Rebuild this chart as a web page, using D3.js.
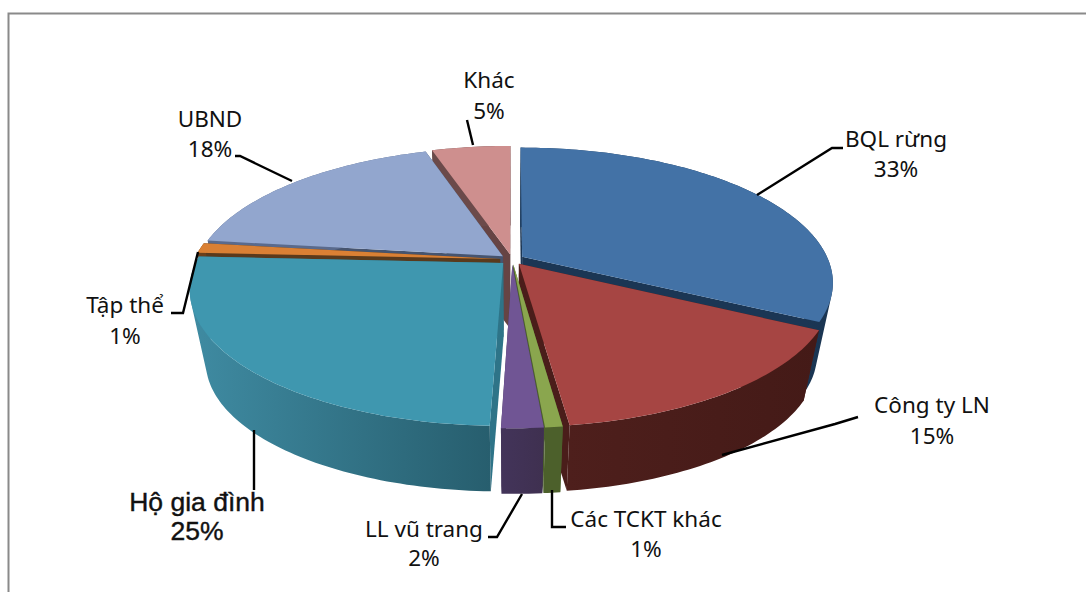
<!DOCTYPE html>
<html><head><meta charset="utf-8">
<style>html,body{margin:0;padding:0;background:#fff}svg{display:block}</style>
<script src="https://cdn.jsdelivr.net/npm/d3@7/dist/d3.min.js"></script>
</head><body><svg id="c" width="1086" height="592"></svg>
<script>
const categories=["BQL rừng","Công ty LN","Các TCKT khác","LL vũ trang","Hộ gia đình","Tập thể","UBND","Khác"];
const values=[32.6,15.33,0.75,1.8,25.3,1.2,18.1,4.92];
const percentLabels=["33%","15%","1%","2%","25%","1%","18%","5%"];
const topColors=["#4372A6","#A64543","#8AA64E","#705594","#3F97AF","#DA8034","#92A6CE","#CE8F8E"];
const wallFrom=["#1F3E60","#4E1F1C","#4C602B","#43345A","#3F8BA2","#6B3F1A","#5A6A8C","#6B4A4A"];
const wallTo=["#1A3552","#441A17","#4C602B","#3F3050","#275E6E","#6B3F1A","#5A6A8C","#6B4A4A"];
const radialColor=["#1B3654","#4A1D1A","#4C602B","#43345A","#2E7488","#5A3A1C","#46546F","#664444"];

// layout constants
const cx=512,cy=259.5,Rx=306,Ry=130.7,persp=0.188,explode=0.039,drop=74,shrink=0.95;
const labelLayout=[
 {x:896,y:[139,169]},{x:932,y:[405,436]},{x:646,y:[519,549]},{x:424,y:[529,558]},
 {x:197,y:[502,531],big:true},{x:125,y:[305,336]},{x:210,y:[119,149]},{x:489,y:[80,111]}];
const leaders=[
 [[757,195],[832,148],[843,148]],
 [[722,455],[835,424],[858,417]],
 [[552,490],[552,527],[566,527]],
 [[522,494],[497,537],[488,537]],
 [[254,430],[254,490]],
 [[198,252],[183,313],[171,313]],
 [[292,181],[240,156],[235,156]],
 [[473,145],[467,120]]];

const svg=d3.select("#c");
const defs=svg.append("defs");
svg.append("rect").attr("width",1086).attr("height",592).attr("fill","#fff");
svg.append("rect").attr("x",8.5).attr("y",13.5).attr("width",1200).attr("height",800)
  .attr("fill","#fff").attr("stroke","#8a8a8a").attr("stroke-width",2);

const pie=d3.pie().sort(null).value(d=>d)(values);
function proj(d,theta,r,bottom){
  const m=(d.startAngle+d.endAngle)/2;
  const u=explode*Math.sin(m)+r*Math.sin(theta);
  const v=-explode*Math.cos(m)-r*Math.cos(theta);
  const p=1/(1-persp*v), s=bottom?shrink:1;
  return [cx+Rx*u*p*s, cy+(bottom?drop:0)+Ry*v*p*s];
}
const line=d3.line();
function quadPath(a,b,c,e){
  let q=[a,b,c,e];
  if(d3.polygonArea(q)<0) q=q.reverse();
  return line(q)+"Z";
}
const slices=pie.map((d,i)=>({d,i,m:(d.startAngle+d.endAngle)/2}))
  .sort((a,b)=>(-Math.cos(a.m))-(-Math.cos(b.m)));

slices.forEach(({d,i})=>{
  const g=svg.append("g");
  const n=Math.max(4,Math.ceil((d.endAngle-d.startAngle)/0.02));
  const thetas=d3.range(n+1).map(k=>d.startAngle+(d.endAngle-d.startAngle)*k/n);
  const topArc=thetas.map(t=>proj(d,t,1,false));
  const botArc=thetas.map(t=>proj(d,t,1,true));
  const a0=proj(d,0,0,false), a1=proj(d,0,0,true);
  [d.startAngle,d.endAngle].forEach(t=>{
    g.append("path").attr("d",quadPath(a0,proj(d,t,1,false),proj(d,t,1,true),a1))
     .attr("fill",radialColor[i]);
  });
  const id="w"+i;
  const xs=topArc.map(p=>p[0]).concat(botArc.map(p=>p[0]));
  const gr=defs.append("linearGradient").attr("id",id).attr("gradientUnits","userSpaceOnUse")
    .attr("x1",d3.min(xs)).attr("x2",d3.max(xs)).attr("y1",0).attr("y2",0);
  gr.append("stop").attr("offset",0).attr("stop-color",wallFrom[i]);
  gr.append("stop").attr("offset",1).attr("stop-color",wallTo[i]);
  let dd="";
  for(let k=0;k<n;k++) dd+=quadPath(topArc[k],topArc[k+1],botArc[k+1],botArc[k]);
  g.append("path").attr("d",dd).attr("fill",`url(#${id})`);
  g.append("path").attr("d",line([a0,...topArc])+"Z").attr("fill",topColors[i]);
});

leaders.forEach(l=>svg.append("path").attr("d",line(l)).attr("fill","none")
  .attr("stroke","#000").attr("stroke-width",2.4));
categories.forEach((c,i)=>{
  const L=labelLayout[i];
  [c,percentLabels[i]].forEach((t,j)=>{
    const txt=svg.append("text").attr("x",L.x).attr("y",L.y[j]+(L.big?9:8)).attr("text-anchor","middle")
     .attr("font-family",L.big?"'Liberation Sans',Arial,sans-serif":"'Noto Sans',sans-serif")
     .attr("font-size",L.big?26.5:22.5).attr("fill","#111").text(t);
    if(L.big) txt.attr("stroke","#111").attr("stroke-width",0.4);
  });
});
</script></body></html>
